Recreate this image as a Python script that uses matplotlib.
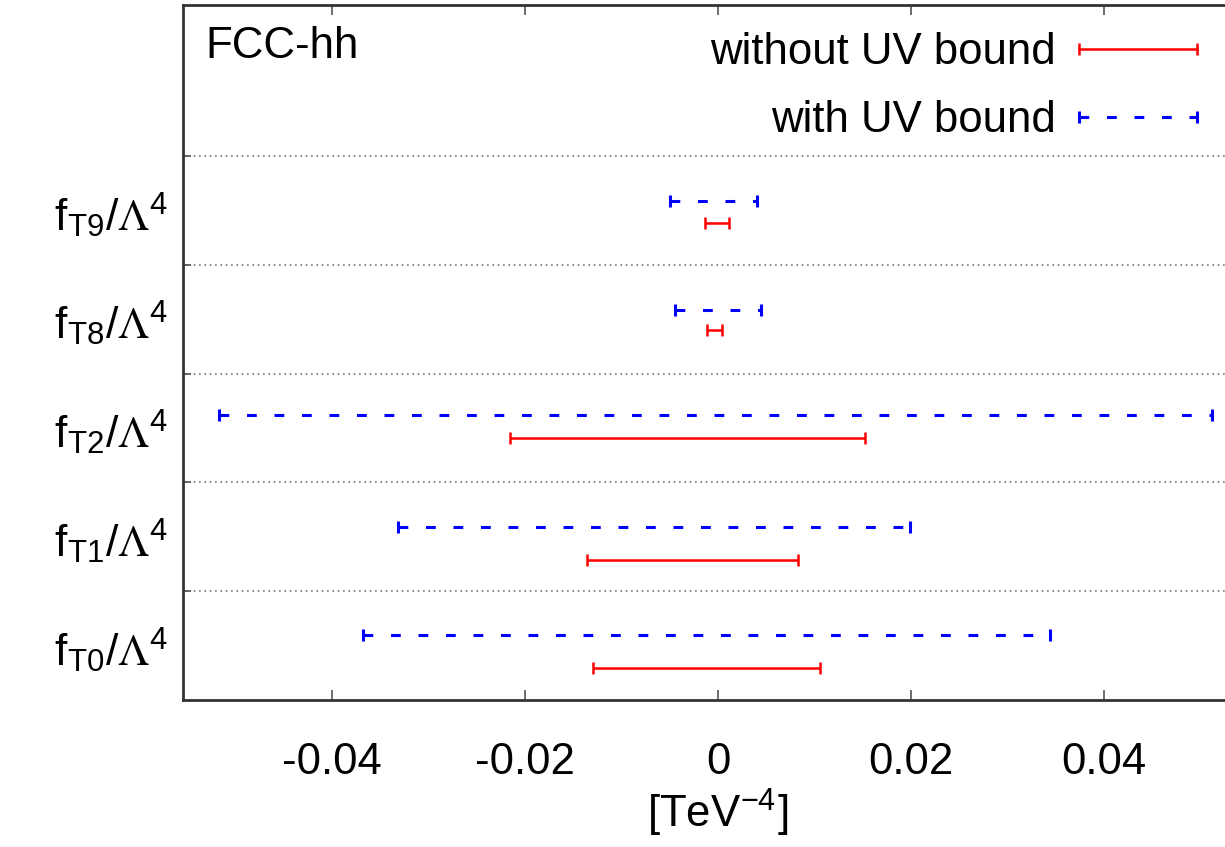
import matplotlib
matplotlib.use("Agg")
import matplotlib.pyplot as plt
from matplotlib.lines import Line2D

plt.rcParams["font.family"] = ["Liberation Sans", "DejaVu Sans"]
plt.rcParams["mathtext.fontset"] = "stix"

# operator labels, bottom to top
operators = ["T0", "T1", "T2", "T8", "T9"]

# limits without the UV bound (red, solid)
lo_free = [-0.0129, -0.0136, -0.0215, -0.0011, -0.0013]
hi_free = [0.0106, 0.0083, 0.0152, 0.0004, 0.0011]

# limits with the UV bound (blue, dashed)
lo_uv = [-0.0368, -0.0331, -0.0517, -0.0045, -0.0050]
hi_uv = [0.0344, 0.0199, 0.0512, 0.0045, 0.0040]

xticks = [-0.04, -0.02, 0, 0.02, 0.04]
xtick_labels = ["-0.04", "-0.02", "0", "0.02", "0.04"]

# vertical offset of each bar inside its row
off_uv = [0.10, 0.09, 0.12, 0.09, 0.09]
off_free = [-0.21, -0.21, -0.09, -0.10, -0.11]

fig = plt.figure(figsize=(12.25, 8.47), dpi=100)
ax = fig.add_axes([183 / 1225, 147 / 847, 1070 / 1225, 695 / 847])

red = "#ff0000"
blue = "#0000ff"
fs = 31.5
dash = (0, (3.2, 5.8))

for i in range(len(operators)):
    yc = i + 0.5
    y1 = yc + off_uv[i]
    ax.hlines(y1, lo_uv[i], hi_uv[i], color=blue, lw=2.2, linestyles=[dash])
    ax.plot([lo_uv[i], hi_uv[i]], [y1, y1], ls="none", marker="|",
            ms=9, mew=2.2, color=blue)
    y2 = yc + off_free[i]
    ax.hlines(y2, lo_free[i], hi_free[i], color=red, lw=1.8)
    ax.plot([lo_free[i], hi_free[i]], [y2, y2], ls="none", marker="|",
            ms=9, mew=1.8, color=red)

# dotted row separators
for k in range(1, len(operators) + 1):
    ax.axhline(k, color="#777777", lw=1.2, ls=(0, (1, 2.2)))

ax.set_xlim(-0.0554, 0.0554)
ax.set_ylim(0, 6.39)

ax.set_xticks(xticks)
ax.set_xticklabels(xtick_labels, fontsize=fs)
ax.tick_params(axis="x", direction="in", length=7, width=1.2, color="#555555",
               top=True, pad=30)

ax.set_yticks(range(1, len(operators) + 1))
ax.set_yticklabels([])
ax.tick_params(axis="y", which="major", direction="in", length=6, width=1.2,
               color="#444444")
ax.set_yticks([i + 0.5 for i in range(len(operators))], minor=True)
ax.set_yticklabels([r"f$_\mathregular{%s}$/$\Lambda^\mathregular{4}$" % op
                    for op in operators], minor=True, fontsize=32)
ax.tick_params(axis="y", which="minor", length=0, pad=11)

for side in ["left", "bottom", "top", "right"]:
    ax.spines[side].set_color("#333333")
    ax.spines[side].set_linewidth(2)

ax.set_xlabel(r"[TeV$^\mathregular{-4}$]", fontsize=fs, labelpad=3)

ax.text(22 / 1070, 1 - 42 / 695, "FCC-hh", transform=ax.transAxes,
        fontsize=fs, va="center", ha="left")

handles = [
    Line2D([], [], color=red, lw=1.8, marker="|", ms=9, mew=1.8),
    Line2D([], [], color=blue, lw=2.2, ls=dash, marker="|", ms=9, mew=2.2),
]
ax.legend(handles, ["without UV bound", "with UV bound"], loc="upper right",
          bbox_to_anchor=(1210 / 1225, 1 - 32 / 847), bbox_transform=fig.transFigure,
          frameon=False, fontsize=fs, numpoints=2, markerfirst=False,
          handlelength=3.3, handletextpad=0.22, labelspacing=0.62,
          borderpad=0, borderaxespad=0)

fig.savefig("out.png", dpi=100)
